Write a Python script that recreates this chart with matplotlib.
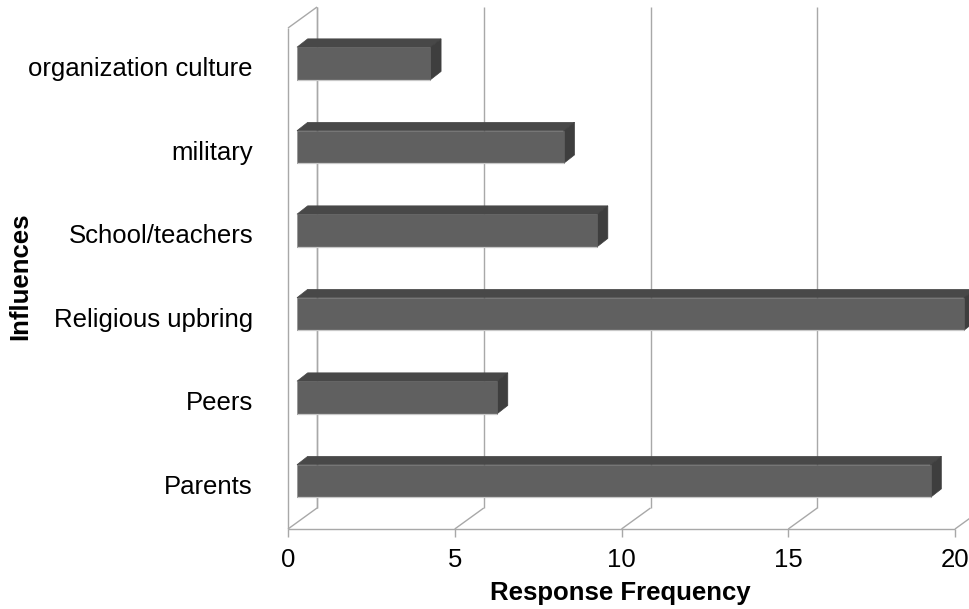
import matplotlib
matplotlib.use("Agg")
import matplotlib.pyplot as plt
from matplotlib.patches import Polygon

plt.rcParams['font.family'] = ['Liberation Sans', 'DejaVu Sans']

categories = ["Parents", "Peers", "Religious upbring", "School/teachers",
              "military", "organization culture"]
values = [19, 6, 20, 9, 8, 4]
xticks = [0, 5, 10, 15, 20]
xlabel = "Response Frequency"
ylabel = "Influences"

FS = 18.5
GRID = "#a8a8a8"
FRONT = "#606060"
TOP = "#484848"
SIDE = "#3e3e3e"
EDGE = "#c8c8c8"

fig = plt.figure(figsize=(9.7, 6.09), dpi=100)
# axes box = front plane of the 3-D frame
ax = fig.add_axes([288 / 970, (609 - 529) / 609, 667 / 970, 501 / 609])
ax.set_xlim(0, 20)
ymin, ymax = -0.575, 5.425
ax.set_ylim(ymin, ymax)
ax.axis("off")

# perspective depth of the frame, in data units
DX, DY = 0.87, 0.2515
# bar placement inside the depth
bx0 = 0.27
bdx, bdy = 0.32, 0.1
half = 0.195

def line(xs, ys, z=1, color=GRID, lw=1.0):
    ax.plot(xs, ys, color=color, lw=lw, clip_on=False, zorder=z,
            solid_capstyle="butt")

# left wall (front edge, back edge, top connector)
line([0, 0], [ymin, ymax])
line([DX, DX], [ymin + DY, ymax + DY])
line([0, DX], [ymax, ymax + DY])
# floor front edge
line([0, 20], [ymin, ymin])
for t in xticks:
    # floor diagonals
    line([t, t + DX], [ymin, ymin + DY])
    # back-wall gridlines
    line([t + DX, t + DX], [ymin + DY, ymax + DY])
    # tick marks
    line([t, t], [ymin, ymin - 0.1])
    ax.text(t, ymin - 0.375, str(t), ha="center", va="center",
            fontsize=FS, clip_on=False)

for i, (cat, v) in enumerate(zip(categories, values)):
    y = i
    x0, x1 = bx0, bx0 + v
    front = [(x0, y - half), (x1, y - half), (x1, y + half), (x0, y + half)]
    top = [(x0, y + half), (x1, y + half),
           (x1 + bdx, y + half + bdy), (x0 + bdx, y + half + bdy)]
    side = [(x1, y - half), (x1 + bdx, y - half + bdy),
            (x1 + bdx, y + half + bdy), (x1, y + half)]
    ax.add_patch(Polygon(top, closed=True, facecolor=TOP, edgecolor=TOP,
                         lw=0.5, clip_on=False, zorder=3))
    ax.add_patch(Polygon(side, closed=True, facecolor=SIDE, edgecolor=SIDE,
                         lw=0.5, clip_on=False, zorder=3))
    ax.add_patch(Polygon(front, closed=True, facecolor=FRONT,
                         edgecolor=FRONT, lw=0.5, clip_on=False, zorder=4))
    # light rim along the bottom and left of the front face
    line([x0, x1], [y - half, y - half], z=5, color=EDGE, lw=0.9)
    line([x0, x0], [y - half, y + half], z=5, color="#a0a0a0", lw=0.6)
    ax.text(-1.05, y - 0.07, cat, ha="right", va="center", fontsize=FS,
            clip_on=False)

fig.text(620 / 970, 1 - 593 / 609, xlabel, ha="center", va="center",
         fontsize=FS, fontweight="bold")
fig.text(20 / 970, 1 - 276 / 609, ylabel, ha="center", va="center",
         fontsize=FS, fontweight="bold", rotation=90)

fig.savefig("out.png", dpi=100)
